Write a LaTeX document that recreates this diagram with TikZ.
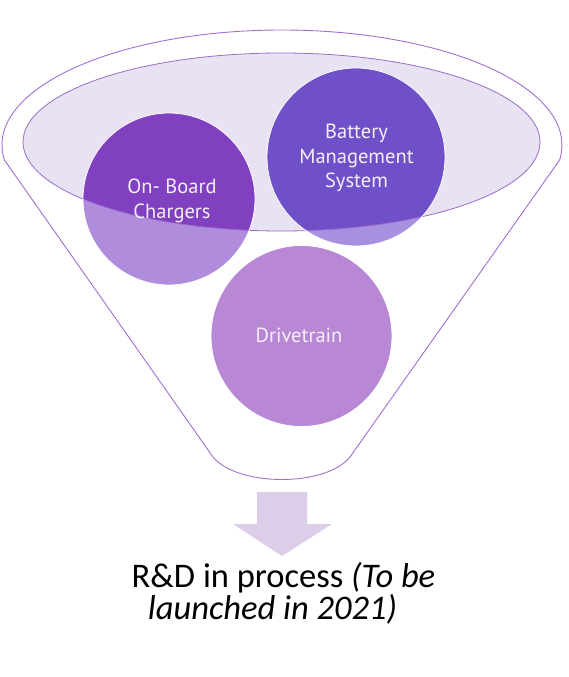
\documentclass[tikz,border=0pt]{standalone}
\usepackage{fontspec}
\setmainfont{Carlito}
\newfontfamily\circfont{PT Sans}
\definecolor{funnelline}{HTML}{A070D0}
\definecolor{ellfill}{HTML}{E9E2F2}
\definecolor{ellline}{HTML}{9A6CCC}
\definecolor{obcdark}{HTML}{8040C0}
\definecolor{obclight}{HTML}{B08CDC}
\definecolor{bmsdark}{HTML}{7050C8}
\definecolor{bmslight}{HTML}{A890E0}
\definecolor{drvcol}{HTML}{B888D4}
\definecolor{arrowcol}{HTML}{DCCDE8}
\definecolor{ctext}{HTML}{F4EEFA}
\begin{document}
\begin{tikzpicture}[x=1pt,y=1pt,
  bubble/.style={circle, draw=white, line width=0.8pt, inner sep=0pt},
  btext/.style={text=ctext, font=\circfont\fontsize{20.5}{24.5}\selectfont, inner sep=0pt, anchor=base},
  caption/.style={inner sep=0pt, anchor=base, text=black, font=\fontsize{34.5}{36}\selectfont}]
\useasboundingbox (0,0) rectangle (569,-677);
% funnel outline
\draw[funnelline, line width=0.9pt, line join=round]
  (4.4,-160) arc[start angle=187.5, end angle=-7.5, x radius=280, y radius=115]
  -- (350,-457) .. controls (326,-487) and (238,-487) .. (213,-457) -- cycle;
% inner ellipse fill
\fill[ellfill] (281.5,-142) ellipse[x radius=258.5, y radius=89];
% circles (light parts)
\fill[drvcol] (301.5,-336) circle[radius=90.5];
\fill[obclight] (169,-199) circle[radius=86];
\fill[bmslight] (356,-157) circle[radius=89];
% darker parts inside the ellipse
\begin{scope}
  \clip (281.5,-142) ellipse[x radius=258.5, y radius=89];
  \fill[obcdark] (169,-199) circle[radius=86];
  \fill[bmsdark] (356,-157) circle[radius=89];
\end{scope}
% ellipse border
\draw[ellline, line width=0.8pt] (281.5,-142) ellipse[x radius=258.5, y radius=89];
% circle nodes
\node[bubble, minimum size=181pt] (drv) at (301.5,-336) {};
\node[bubble, minimum size=172pt] (obc) at (169,-199) {};
\node[bubble, minimum size=178pt] (bms) at (356,-157) {};
% labels
\node[btext] (drvt) at (299,-342) {Drivetrain};
\node[btext] (obct1) at (172,-193) {On- Board};
\node[btext] (obct2) at (172,-218) {Chargers};
\node[btext] (bmst1) at (356.5,-138) {Battery};
\node[btext] (bmst2) at (356.5,-163) {Management};
\node[btext] (bmst3) at (356.5,-187) {System};
% arrow
\fill[arrowcol] (257,-492) -- (307,-492) -- (307,-524) -- (332,-524) -- (282,-556)
  -- (233,-524) -- (257,-524) -- cycle;
% caption
\node[caption] (cap1) at (283.5,-587) {R\&D in process \textit{(To be}};
\node[caption] (cap2) at (272.5,-619) {\textit{launched in 2021)}};
\end{tikzpicture}
\end{document}
